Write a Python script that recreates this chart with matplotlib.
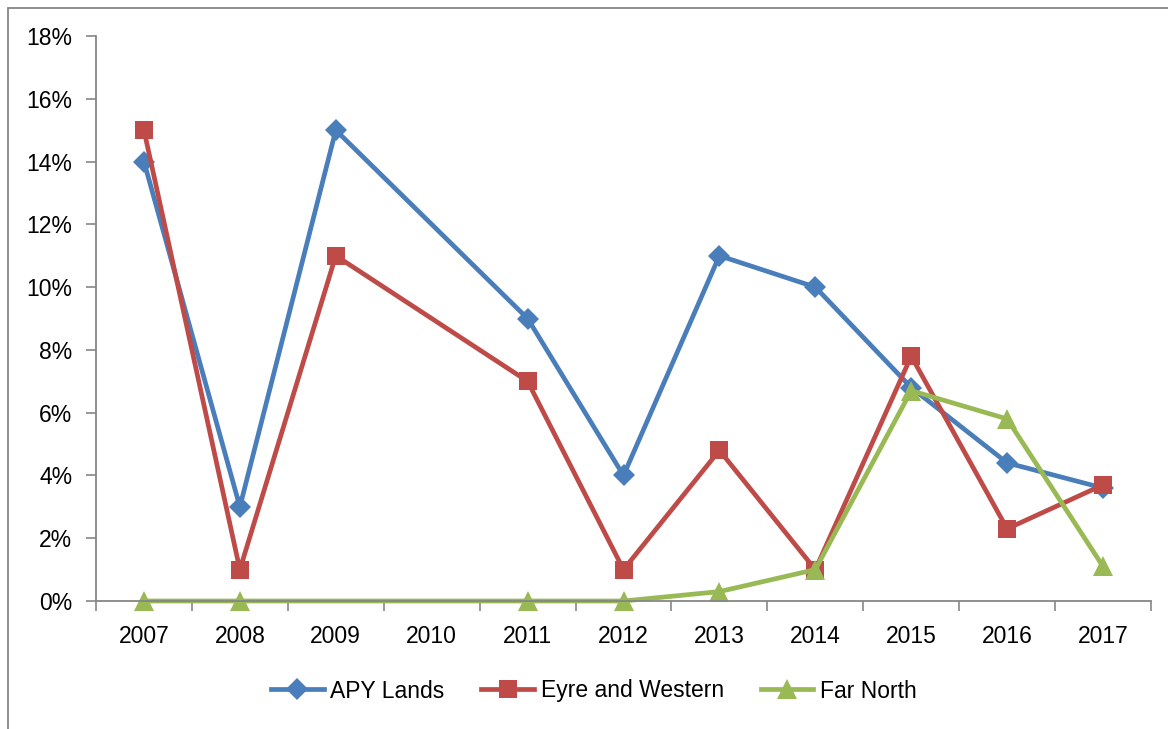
import matplotlib.pyplot as plt
import numpy as np
from matplotlib.patches import Rectangle
from matplotlib.ticker import FuncFormatter, FixedLocator

plt.rcParams["font.family"] = ["Liberation Sans", "DejaVu Sans"]

# Data (percent); None = no value for that year
years = ["2007", "2008", "2009", "2010", "2011", "2012",
         "2013", "2014", "2015", "2016", "2017"]
apy_lands = [14, 3, 15, None, 9, 4, 11, 10, 6.8, 4.4, 3.6]
eyre_western = [15, 1, 11, None, 7, 1, 4.8, 1, 7.8, 2.3, 3.7]
far_north = [0, 0, None, None, 0, 0, 0.3, 1.0, 6.7, 5.8, 1.1]

series = [
    ("APY Lands", apy_lands, "#4A7EBB", "D", 11),
    ("Eyre and Western", eyre_western, "#BE4B48", "s", 13),
    ("Far North", far_north, "#98B954", "^", 14),
]

fig = plt.figure(figsize=(11.68, 7.29), dpi=100)
ax = fig.add_axes([96 / 1168, 1 - 601 / 729, (1151 - 96) / 1168, (601 - 36) / 729])

x = np.arange(len(years))
for name, vals, col, mk, ms in series:
    # Excel joins across empty cells, so drop the gaps instead of breaking the line
    xs = [xi for xi, v in zip(x, vals) if v is not None]
    ys = [v for v in vals if v is not None]
    ax.plot(xs, ys, color=col, lw=3.4, marker=mk, markersize=ms,
            markeredgewidth=0, label=name, clip_on=False)

grey = "#868686"
ax.set_xlim(-0.5, len(years) - 0.5)
ax.set_ylim(0, 18)
ax.set_yticks(np.arange(0, 19, 2))
ax.yaxis.set_major_formatter(FuncFormatter(lambda v, p: f"{v:.0f}%"))

ax.set_xticks(x)
ax.set_xticklabels(years)
ax.xaxis.set_minor_locator(FixedLocator(np.arange(-0.5, len(years), 1)))
ax.tick_params(axis="x", which="major", length=0, pad=17, labelsize=16.5)
ax.tick_params(axis="x", which="minor", length=7, width=1.2, color=grey, direction="out")
ax.tick_params(axis="y", length=7, width=1.2, color=grey, pad=10, labelsize=16.5)

for s in ["top", "right"]:
    ax.spines[s].set_visible(False)
for s in ["left", "bottom"]:
    ax.spines[s].set_color(grey)
    ax.spines[s].set_linewidth(1.3)

leg = fig.legend(loc="center", bbox_to_anchor=(594 / 1168, 1 - 691 / 729), ncol=3,
                 frameon=False, fontsize=16.5, handlelength=2.3, handletextpad=0.3,
                 columnspacing=1.6)

# chart area border (only left and top edges fall inside the image)
fig.patches.append(Rectangle((8 / 1168, -0.1), 1.2, 1.1 - 8 / 729,
                             transform=fig.transFigure, fill=False,
                             edgecolor=grey, lw=1.3))

fig.savefig("out.png", dpi=100)
